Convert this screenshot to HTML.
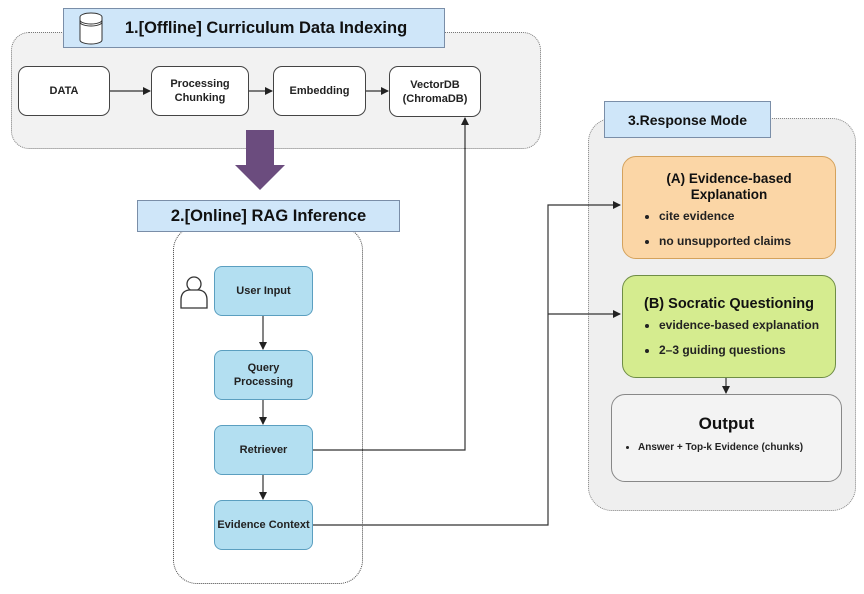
<!DOCTYPE html>
<html><head><meta charset="utf-8"><style>
body{margin:0;width:864px;height:594px;background:#fff;font-family:"Liberation Sans",Arial,sans-serif;overflow:hidden;position:relative}
.a{position:absolute;box-sizing:border-box}
.c{display:flex;align-items:center;justify-content:center;text-align:center;font-weight:bold;color:#222}
.w{background:#fff;border:1px solid #444;border-radius:9px;font-size:11px;line-height:14px}
.b{background:#b3dff1;border:1.5px solid #5b9fc0;border-radius:8px;font-size:11px;line-height:14px}
.h{background:#cfe6f9;border:1px solid #7a8ea8;font-weight:bold;color:#111}
ul{margin:0;padding-left:36px;font-size:12px;font-weight:bold;color:#222;text-align:left}
li{margin:6px 0}
</style></head><body>
<div class="a" style="left:11px;top:32px;width:530px;height:117px;background:#f2f2f2;border:1.2px dotted #777;border-radius:18px"></div>
<div class="a" style="left:173px;top:226px;width:190px;height:358px;border:1.2px dotted #444;border-radius:24px"></div>
<div class="a" style="left:588px;top:118px;width:268px;height:393px;background:#efefef;border:1.2px dotted #888;border-radius:24px"></div>

<div class="a h c" style="left:63px;top:8px;width:382px;height:40px;font-size:16.5px;padding-left:24px">1.[Offline] Curriculum Data Indexing</div>
<svg class="a" style="left:76px;top:10px" width="30" height="36"><ellipse cx="15" cy="7" rx="11" ry="4" fill="#fff" stroke="#333"/><path d="M4 7 V30 A11 4 0 0 0 26 30 V7" fill="#fff" stroke="#333"/><path d="M4 10 A11 4 0 0 0 26 10 M4 12 A11 4 0 0 0 26 12" fill="none" stroke="#333"/></svg>

<div class="a w c" style="left:18px;top:66px;width:92px;height:50px">DATA</div>
<div class="a w c" style="left:151px;top:66px;width:98px;height:50px">Processing<br>Chunking</div>
<div class="a w c" style="left:273px;top:66px;width:93px;height:50px">Embedding</div>
<div class="a w c" style="left:389px;top:66px;width:92px;height:51px">VectorDB<br>(ChromaDB)</div>

<div class="a h c" style="left:137px;top:200px;width:263px;height:32px;font-size:16.5px">2.[Online] RAG Inference</div>
<div class="a h c" style="left:604px;top:101px;width:167px;height:37px;font-size:14px">3.Response Mode</div>

<div class="a b c" style="left:214px;top:266px;width:99px;height:50px">User Input</div>
<div class="a b c" style="left:214px;top:350px;width:99px;height:50px">Query<br>Processing</div>
<div class="a b c" style="left:214px;top:425px;width:99px;height:50px">Retriever</div>
<div class="a b c" style="left:214px;top:500px;width:99px;height:50px">Evidence Context</div>

<div class="a" style="left:622px;top:156px;width:214px;height:103px;background:#fbd6a6;border:1.2px solid #d4a25c;border-radius:14px">
<div style="text-align:center;font-weight:bold;font-size:13.5px;line-height:16px;margin-top:14px;color:#111">(A) Evidence-based<br>Explanation</div>
<ul style="margin-top:5px"><li>cite evidence</li><li style="margin-top:11px">no unsupported claims</li></ul></div>
<div class="a" style="left:622px;top:275px;width:214px;height:103px;background:#d5ec8f;border:1.2px solid #6f8d46;border-radius:14px">
<div style="text-align:center;font-weight:bold;font-size:14.5px;margin-top:20px;color:#111">(B) Socratic Questioning</div>
<ul style="margin-top:5px"><li>evidence-based explanation</li><li style="margin-top:11px">2–3 guiding questions</li></ul></div>
<div class="a" style="left:611px;top:394px;width:231px;height:88px;background:#f3f3f3;border:1.2px solid #888;border-radius:14px">
<div style="text-align:center;font-weight:bold;font-size:17px;margin-top:19px;color:#111">Output</div>
<ul style="margin-top:8px;font-size:10px;padding-left:26px"><li>Answer + Top-k Evidence (chunks)</li></ul></div>

<svg class="a" style="left:0;top:0" width="864" height="594">
<defs><marker id="m" markerWidth="8" markerHeight="8" refX="7" refY="4" orient="auto" markerUnits="userSpaceOnUse"><path d="M0,0 L8,4 L0,8 Z" fill="#222"/></marker></defs>
<g stroke="#333" stroke-width="1.2" fill="none">
<line x1="110" y1="91" x2="150" y2="91" marker-end="url(#m)"/>
<line x1="249" y1="91" x2="272" y2="91" marker-end="url(#m)"/>
<line x1="366" y1="91" x2="388" y2="91" marker-end="url(#m)"/>
<line x1="263" y1="316" x2="263" y2="349" marker-end="url(#m)"/>
<line x1="263" y1="400" x2="263" y2="424" marker-end="url(#m)"/>
<line x1="263" y1="475" x2="263" y2="499" marker-end="url(#m)"/>
<polyline points="313,450 465,450 465,118" marker-end="url(#m)"/>
<polyline points="313,525 548,525 548,205 620,205" marker-end="url(#m)"/>
<line x1="548" y1="314" x2="620" y2="314" marker-end="url(#m)"/>
<line x1="726" y1="378" x2="726" y2="393" marker-end="url(#m)"/>
</g>
<path d="M246,130 H274 V165 H285 L260,190 L235,165 H246 Z" fill="#6b4c7e"/>
<g fill="#fff" stroke="#333" stroke-width="1.3"><circle cx="194" cy="284" r="7"/><path d="M181,308 V300 Q181,291 189,290 H199 Q207,291 207,300 V308 Z"/></g>
</svg>
</body></html>
